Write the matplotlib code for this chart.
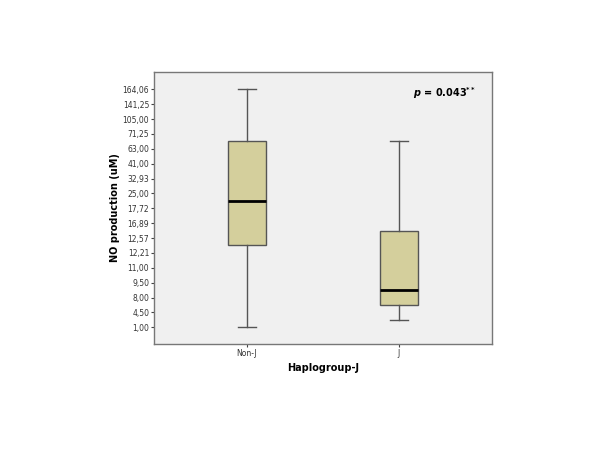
import matplotlib
matplotlib.use("Agg")
import matplotlib.pyplot as plt

# y axis is ordinal: evenly spaced labels, boxes drawn in rank positions
tick_labels = ["1,00", "4,50", "8,00", "9,50", "11,00", "12,21", "12,57", "16,89",
               "17,72", "25,00", "32,93", "41,00", "63,00", "71,25", "105,00",
               "141,25", "164,06"]
groups = ["Non-J", "J"]
whislo = [0.0, 0.5]
q1 = [5.5, 1.5]
med = [8.5, 2.5]
q3 = [12.5, 6.5]
whishi = [16.0, 12.5]

stats = []
for i, g in enumerate(groups):
    stats.append({"label": g, "whislo": whislo[i], "q1": q1[i], "med": med[i],
                  "q3": q3[i], "whishi": whishi[i], "fliers": []})

fig = plt.figure(figsize=(6, 4.5), dpi=100)
ax = fig.add_axes([0.2567, 0.2356, 0.5628, 0.6051])
ax.set_facecolor("#f0f0f0")

edge = "#555555"
ax.bxp(stats, positions=[0, 1], widths=0.25, patch_artist=True, showfliers=False,
       boxprops=dict(facecolor="#d4cf9c", edgecolor=edge, linewidth=1.0),
       whiskerprops=dict(color=edge, linewidth=1.0),
       capprops=dict(color=edge, linewidth=1.0),
       medianprops=dict(color="black", linewidth=2.0),
       capwidths=0.12)

ax.set_xlim(-0.613, 1.613)
ax.set_ylim(-1.12, 17.18)
ax.set_yticks(range(len(tick_labels)))
ax.set_yticklabels(tick_labels)
ax.set_xticks([0, 1])
ax.set_xticklabels(groups)
ax.tick_params(axis="both", labelsize=5.5, length=2.5, width=0.8, color="#444444",
               labelcolor="#333333", pad=1)
for s in ax.spines.values():
    s.set_color("#777777")
    s.set_linewidth(1.0)

ax.set_xlabel("Haplogroup-J", fontsize=7, fontweight="bold", labelpad=4)
ax.set_ylabel("NO production (uM)", fontsize=7, fontweight="bold", labelpad=2)

ax.text(0.955, 0.95, r"$\bfit{p}$" + " = 0.043" + r"$^{\mathbf{**}}$",
        transform=ax.transAxes, ha="right", va="top", fontsize=7, fontweight="bold")

fig.savefig("out.png", dpi=100)
